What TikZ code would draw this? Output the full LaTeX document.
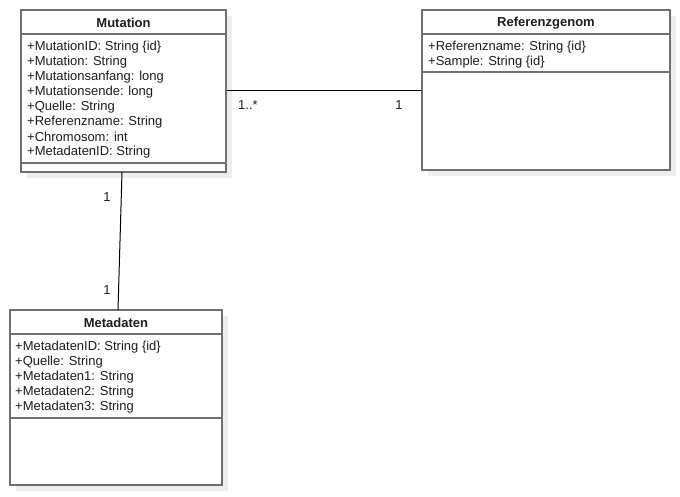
\documentclass[tikz,border=0pt]{standalone}
\usepackage{fontspec}
\setmainfont{Liberation Sans}
\usetikzlibrary{shadows}
\definecolor{boxline}{HTML}{707070}
\definecolor{shadowc}{HTML}{EDEDED}
\definecolor{txt}{HTML}{1E1E1E}
\begin{document}
\begin{tikzpicture}[x=1pt,y=-1pt,
  umlbox/.style={draw=boxline, line width=1.4pt, fill=white, rectangle, inner sep=0pt,
     drop shadow={shadow xshift=6pt, shadow yshift=-6pt, fill=shadowc, opacity=1}},
  sep/.style={draw=boxline, line width=1.4pt},
  title/.style={font=\fontsize{13}{15}\selectfont\bfseries, text=txt, inner sep=0pt},
  attr/.style={font=\fontsize{13}{15}\selectfont, text=txt, anchor=west, inner sep=0pt},
  conn/.style={draw=black, line width=1pt},
  mult/.style={font=\fontsize{13}{15}\selectfont, text=txt, inner sep=0pt}]
\useasboundingbox (0,0) rectangle (680,496);
% Mutation
\node[umlbox, minimum width=205pt, minimum height=162pt] (mut) at (123.5,91) {};
\draw[sep] (21,34) -- (226,34);
\draw[sep] (21,163) -- (226,163);
\node[title] (mutT) at (123.5,23) {Mutation};
\node[attr] (m1) at (27,47) {+MutationID: String \{id\}};
\node[attr] (m2) at (27,62) {+Mutation: String};
\node[attr] (m3) at (27,77) {+Mutationsanfang: long};
\node[attr] (m4) at (27,92) {+Mutationsende: long};
\node[attr] (m5) at (27,107) {+Quelle: String};
\node[attr] (m6) at (27,122) {+Referenzname: String};
\node[attr] (m7) at (27,137) {+Chromosom: int};
\node[attr] (m8) at (27,152) {+MetadatenID: String};
% Referenzgenom
\node[umlbox, minimum width=248pt, minimum height=160pt] (ref) at (546,90) {};
\draw[sep] (422,34) -- (670,34);
\draw[sep] (422,72) -- (670,72);
\node[title] (refT) at (546,23) {Referenzgenom};
\node[attr] (r1) at (428,47) {+Referenzname: String \{id\}};
\node[attr] (r2) at (428,62) {+Sample: String \{id\}};
% Metadaten
\node[umlbox, minimum width=212pt, minimum height=175pt] (meta) at (116,397.5) {};
\draw[sep] (10,334) -- (222,334);
\draw[sep] (10,418) -- (222,418);
\node[title] (metaT) at (116,323) {Metadaten};
\node[attr] (d1) at (15,347) {+MetadatenID: String \{id\}};
\node[attr] (d2) at (15,362) {+Quelle: String};
\node[attr] (d3) at (15,377) {+Metadaten1: String};
\node[attr] (d4) at (15,392) {+Metadaten2: String};
\node[attr] (d5) at (15,407) {+Metadaten3: String};
% connectors
\coordinate (a1) at (mut.east |- 0,90);
\coordinate (a2) at (ref.west |- 0,90);
\draw[conn] (a1) -- (a2);
\coordinate (b1) at (122,172);
\coordinate (b2) at (118,310);
\draw[conn] (b1) -- (b2);
\node[mult, anchor=west] (l1) at (238,105) {1..*};
\node[mult] (l2) at (399,105) {1};
\node[mult] (l3) at (107,197) {1};
\node[mult] (l4) at (107,290) {1};
\end{tikzpicture}
\end{document}
